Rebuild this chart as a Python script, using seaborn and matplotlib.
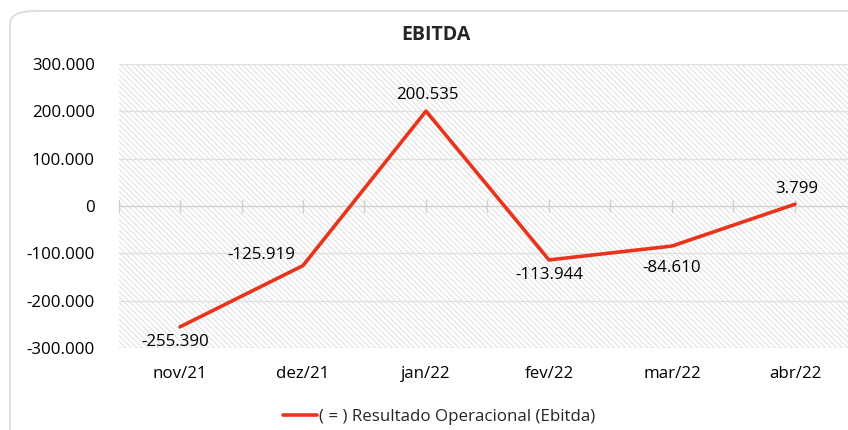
import matplotlib
matplotlib.use("Agg")
import matplotlib.pyplot as plt
import seaborn as sns
import pandas as pd
from matplotlib.patches import Rectangle, FancyBboxPatch
from matplotlib.ticker import FuncFormatter

categories = ["nov/21", "dez/21", "jan/22", "fev/22", "mar/22", "abr/22"]
values = [-255390, -125919, 200535, -113944, -84610, 3799]
series_name = "( = ) Resultado Operacional (Ebitda)"
yticks = [-300000, -200000, -100000, 0, 100000, 200000, 300000]

sns.set_theme(style="white")
plt.rcParams['font.family'] = ['Open Sans', 'DejaVu Sans']
plt.rcParams['hatch.color'] = "#dadada"
plt.rcParams['hatch.linewidth'] = 0.6

FS = 12.2

fig = plt.figure(figsize=(8.48, 4.30), dpi=100)
fig.patch.set_facecolor("white")

# outer rounded border
border = FancyBboxPatch((10/848, -0.2), 1.2, (430-11)/430 + 0.2,
                        boxstyle="round,pad=0,rounding_size=0.03",
                        transform=fig.transFigure, fill=False,
                        edgecolor="#d9d9d9", linewidth=1.2)
fig.patches.append(border)

ax = fig.add_axes([118.5/848, (430-348)/430, 738/848, 284/430])
df = pd.DataFrame({"mes": categories, "valor": values, "serie": series_name})
df["x"] = range(len(categories))

# hatched background
bg = Rectangle((0, 0), 1, 1, transform=ax.transAxes, facecolor="white",
               edgecolor="#dadada", hatch="\\\\\\\\\\\\", linewidth=0, zorder=0)
ax.add_patch(bg)

sns.lineplot(data=df, x="x", y="valor", hue="serie", palette=["#e8341c"],
             linewidth=2.6, ax=ax, zorder=3, legend=True)

ax.set_xlim(-0.5, len(categories) - 0.5)
ax.set_ylim(-300000, 300000)
ax.set_yticks(yticks)
ax.yaxis.set_major_formatter(FuncFormatter(lambda v, p: "0" if v == 0 else f"{int(v):,}".replace(",", ".")))
ax.set_xticks(range(len(categories)))
ax.set_xticklabels(categories)
ax.set_xlabel("")
ax.set_ylabel("")
for s in ax.spines.values():
    s.set_visible(False)
ax.tick_params(axis="both", length=0, labelsize=FS, colors="black")
ax.tick_params(axis="x", pad=13)
ax.tick_params(axis="y", pad=17)

for yv in yticks:
    if yv == 0:
        continue
    ax.axhline(yv, color="#e0e0e0", linewidth=1.0, zorder=1)
ax.axhline(0, color="#d0d0d0", linewidth=1.0, zorder=2)
for k in range(2 * len(categories) + 1):
    b = -0.5 + 0.5 * k
    ax.plot([b, b], [-12500, 12500], color="#d0d0d0", linewidth=1.0, zorder=2, clip_on=False)

# data labels (offsets in pixels from the point to the label centre)
offsets = [(-5, -15), (-42, 11), (1, 16), (0, -15), (0, -22), (2, 15)]
for i, v in enumerate(values):
    dx, dy = offsets[i]
    txt = f"{v:,}".replace(",", ".")
    ax.annotate(txt, (i, v), xytext=(dx, dy), textcoords="offset pixels",
                ha="center", va="center", fontsize=FS, color="black", zorder=4)

fig.text(436/848, 1 - 35/430, "EBITDA", ha="center", va="center", fontsize=14, fontweight="bold")

leg = ax.get_legend()
if leg is not None:
    leg.remove()
handles, labels = ax.get_legend_handles_labels()
fig.legend(handles, labels, loc="center", bbox_to_anchor=(439/848, 1 - 417/430),
           frameon=False, fontsize=FS, handlelength=2.0, handletextpad=0.1)

fig.savefig("out.png", dpi=100)
